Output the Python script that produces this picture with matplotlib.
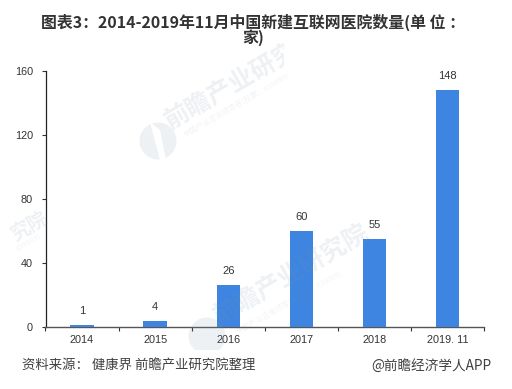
import matplotlib; matplotlib.use("Agg")
import matplotlib.pyplot as plt
from matplotlib.patches import Circle, Polygon
from matplotlib.transforms import Bbox

plt.rcParams['font.family'] = ['Noto Sans CJK SC', 'DejaVu Sans']

categories = ["2014", "2015", "2016", "2017", "2018", "2019. 11"]
values = [1, 4, 26, 60, 55, 148]
yticks = [0, 40, 80, 120, 160]
title = "图表3：2014-2019年11月中国新建互联网医院数量(单 位 ：\n家)"
source = "资料来源： 健康界 前瞻产业研究院整理"
credit = "@前瞻经济学人APP"
wm_main = "前瞻产业研究院"
wm_sub = "中国产业咨询领导者(股票：839599)"

W, H = 512, 389
fig = plt.figure(figsize=(W/100, H/100), dpi=100)
ax = fig.add_axes([45.5/W, 1-327/H, (484-45.5)/W, (327-71)/H])
ax.patch.set_alpha(0)

xs = range(len(categories))
ax.bar(xs, values, width=0.32, color="#3d85e0", zorder=3)
for x, v in zip(xs, values):
    ax.annotate(str(v), (x, v), xytext=(0, 14), textcoords="offset pixels", ha='center', va='center',
                fontsize=8, color="#333333", family='Liberation Sans')

ax.set_xlim(-0.5, 5.5)
ax.set_ylim(0, 160)
ax.set_yticks(yticks)
ax.set_xticks([i-0.5 for i in range(7)])
ax.set_xticklabels([])
ax.set_xticks(list(xs), labels=categories, minor=True)
ax.tick_params(axis='x', which='major', length=3, width=0.8, direction='out', color="#333333")
ax.tick_params(axis='x', which='minor', length=0, pad=6, labelsize=7.8, labelcolor="#333333")
ax.tick_params(axis='y', length=3, width=0.8, color="#333333", labelsize=7.8, labelcolor="#333333", pad=6)
for lab in ax.get_xticklabels(minor=True) + ax.get_yticklabels():
    lab.set_family('Liberation Sans')
for side in ['top', 'right']:
    ax.spines[side].set_visible(False)
ax.spines['left'].set_linewidth(0.9)
ax.spines['left'].set_color("#222222")
ax.spines['bottom'].set_linewidth(1.0)
ax.spines['bottom'].set_color("#555555")

# watermarks, pixel positions from the top-left corner
def px(x, y):
    return x/W, 1-y/H

def stamp(x, y, s, size, clip_x=W, bold=True, alpha=0.13):
    t = fig.text(*px(x, y), s, color="#7f93ad", alpha=alpha, fontsize=size, rotation=30,
                 rotation_mode='anchor', ha='left', va='center',
                 fontweight='bold' if bold else 'normal', zorder=5)
    t.set_clip_box(Bbox([[0, 0], [clip_x, H]]))
    t.set_clip_on(True)

stamp(167, 124, wm_main, 18, clip_x=284)
stamp(216, 319, wm_main, 18)
stamp(12, 236, wm_main[-2:], 14)
stamp(185, 136, wm_sub, 5.4, clip_x=310, bold=False, alpha=0.1)
stamp(238, 333, wm_sub, 5.4, bold=False, alpha=0.1)
stamp(17, 250, wm_sub[-7:], 5.4, bold=False, alpha=0.1)

for cx, cy in [(158, 141), (207, 336)]:
    c = Circle((cx, H-cy), 18.5, transform=None, color="#7f93ad", alpha=0.13, lw=0, zorder=5)
    fig.add_artist(c)
    c.set_clip_box(Bbox([[0, H-350], [W, H]]))
    c.set_clip_on(True)
# white cut in the upper logo
fig.add_artist(Polygon([(150, H-122), (160, H-130), (166, H-160), (160, H-160)],
                       transform=None, color="white", lw=0, zorder=6))

fig.text(253/W, 1-30/H, title, ha='center', va='center', fontsize=11.45, fontweight='bold',
         color="#333333", linespacing=0.9)
fig.text(22/W, 1-366/H, source, ha='left', va='center', fontsize=9.6, color="#404040")
fig.text(491/W, 1-366/H, credit, ha='right', va='center', fontsize=9.8, color="#404040")

fig.savefig("out.png", dpi=100)
